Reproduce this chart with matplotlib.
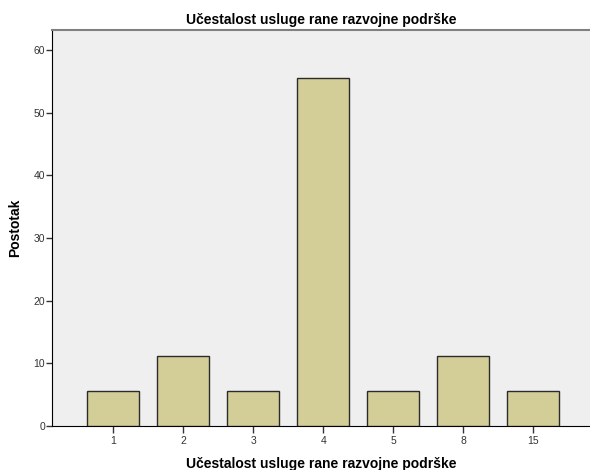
import matplotlib
matplotlib.use("Agg")
import matplotlib.pyplot as plt
import numpy as np

plt.rcParams['font.family'] = ['Liberation Sans', 'DejaVu Sans']

kategorije = ['1', '2', '3', '4', '5', '8', '15']
postotak = [5.56, 11.11, 5.56, 55.56, 5.56, 11.11, 5.56]

fig = plt.figure(figsize=(5.9, 4.7), dpi=100)
ax = fig.add_axes([0.0881, 0.0936, 0.9119, 0.8426])
ax.set_facecolor('#EFEFEF')

x = np.arange(len(kategorije))
ax.bar(x, postotak, width=0.74, color='#D3CE97', edgecolor='#2B2B2B', linewidth=1.0, zorder=3)

ax.set_xlim(-0.871, 6.81)
ax.set_ylim(0, 63.2)
ax.set_xticks(x)
ax.set_xticklabels(kategorije)
ax.set_yticks(np.arange(0, 61, 10))

ax.tick_params(axis='both', labelsize=7.5, colors='#333333', direction='out')
ax.tick_params(axis='y', length=4, width=1, pad=1)
ax.tick_params(axis='x', length=5, width=1, pad=2)

ax.spines['left'].set_color('black')
ax.spines['bottom'].set_color('black')
ax.spines['top'].set_color('#808080')
ax.spines['top'].set_linewidth(1.5)
ax.spines['right'].set_visible(False)

ax.set_title("Učestalost usluge rane razvojne podrške", fontsize=10, fontweight='bold', pad=4)
ax.set_xlabel("Učestalost usluge rane razvojne podrške", fontsize=10, fontweight='bold', labelpad=8)
ax.set_ylabel("Postotak", fontsize=10, fontweight='bold', labelpad=8)

fig.savefig("out.png", dpi=100)
plt.close(fig)
